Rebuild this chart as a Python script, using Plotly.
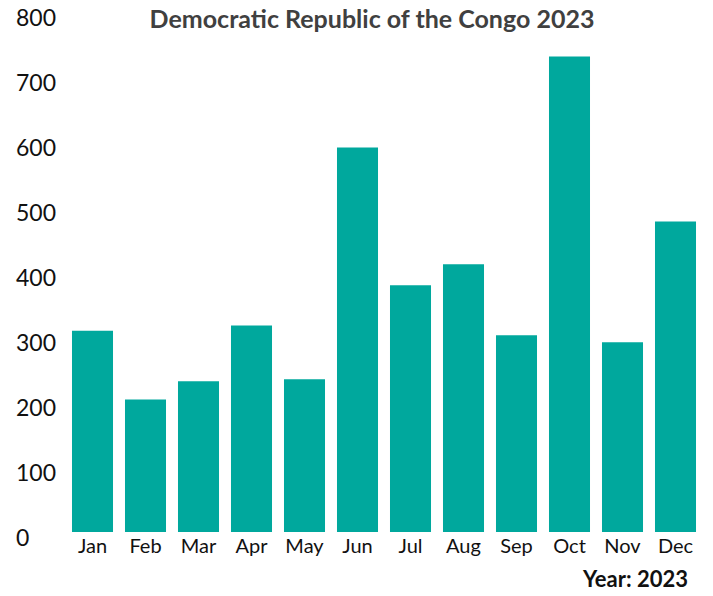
import plotly.graph_objects as go

months = ["Jan", "Feb", "Mar", "Apr", "May", "Jun", "Jul", "Aug", "Sep", "Oct", "Nov", "Dec"]
values = [310, 204, 232, 318, 235, 592, 380, 412, 303, 732, 292, 478]
y_ticks = [0, 100, 200, 300, 400, 500, 600, 700, 800]
y_tick_text = [str(v) for v in y_ticks]

fig = go.Figure(
    go.Bar(x=months, y=values, marker=dict(color="#00A89D", line=dict(width=0)))
)

# y-axis tick labels (left-aligned, as in the reference), placed via the y scale
tick_annotations = [
    dict(
        text=t,
        xref="paper",
        yref="y",
        x=-(66 - 14) / 636,
        y=v,
        xanchor="left",
        yanchor="middle",
        yshift=-5,
        showarrow=False,
        font=dict(size=23, color="#111111", family="Lato, sans-serif"),
    )
    for v, t in zip(y_ticks, y_tick_text)
]

fig.update_layout(
    width=713,
    height=596,
    margin=dict(l=66, r=11, t=12, b=64, autoexpand=False),
    paper_bgcolor="white",
    plot_bgcolor="white",
    bargap=0.226,
    showlegend=False,
    font=dict(family="Lato, sans-serif", color="#111111"),
    title=dict(
        text="<b>Democratic Republic of the Congo 2023</b>",
        x=372 / 713,
        xanchor="center",
        y=1 - 19 / 596,
        yanchor="middle",
        yref="container",
        font=dict(size=25, color="#404040", family="Lato, sans-serif"),
    ),
    xaxis=dict(
        showgrid=False,
        showline=False,
        ticks="",
        automargin=False,
        tickfont=dict(size=20, color="#111111"),
        ticklabelstandoff=0,
    ),
    yaxis=dict(
        range=[0, 800.5],
        tickvals=y_ticks,
        showticklabels=False,
        showgrid=False,
        showline=False,
        zeroline=False,
        ticks="",
        automargin=False,
    ),
    annotations=tick_annotations
    + [
        dict(
            text="<b>Year: 2023</b>",
            xref="paper",
            yref="paper",
            x=1 - (702 - 690) / 636,
            y=-(578 - 532) / 520,
            xanchor="right",
            yanchor="middle",
            showarrow=False,
            font=dict(size=22, color="#111111", family="Lato, sans-serif"),
        )
    ],
)

fig.write_html(
    "out.html",
    config={"displayModeBar": False},
    post_script="document.body.style.margin='0';document.body.style.overflow='hidden';",
)
